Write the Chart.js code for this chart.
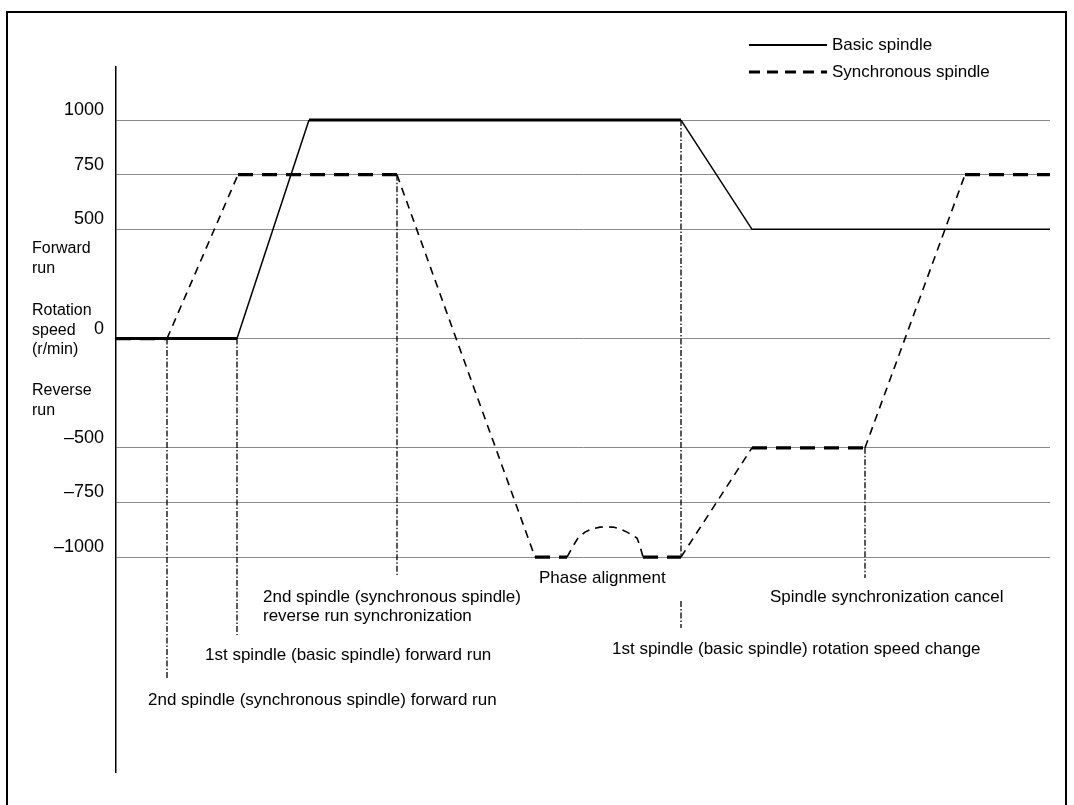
<!DOCTYPE html>
<html>
<head>
<meta charset="utf-8">
<title>Spindle synchronization</title>
<script src="https://cdn.jsdelivr.net/npm/chart.js@4.4.1/dist/chart.umd.min.js"></script>
<style>
  html, body { margin: 0; padding: 0; background: #fff; }
  #wrap { position: relative; width: 1074px; height: 805px; overflow: hidden; }
  #frame { position: absolute; left: 6px; top: 11px; width: 1061px; height: 830px;
           border: 2.5px solid #000; box-sizing: border-box; }
  #chart { position: absolute; left: 0; top: 0; }
</style>
</head>
<body>
<div id="wrap">
  <div id="frame"></div>
  <canvas id="chart" width="1074" height="805"></canvas>
</div>
<script>
"use strict";

// ── Data (time in arbitrary units, speed in r/min) ─────────────
const speedTicks = [1000, 750, 500, 0, -500, -750, -1000];

const basicTime  = [0, 121, 193, 565, 636, 934];
const basicSpeed = [0, 0, 1000, 1000, 500, 500];

const syncTime  = [0, 51, 122, 281, 419, 451, 457, 462, 469, 476, 484, 490, 497, 504, 511, 521, 524, 527, 565, 636, 749, 849, 934];
const syncSpeed = [0, 0, 750, 750, -1000, -1000, -950, -913, -886, -871, -863, -862, -863, -871, -886, -913, -950, -1000, -1000, -500, -500, 750, 750];

// event markers (vertical dash-dot lines)
const markerTime   = [51, 121, 281, 565, 749];
const markerTop    = [0, 0, 750, 1000, -500];
const markerBottom = [-1563, -1357, -1082, -1325, -1096];
const markerGapFrom = [null, null, null, -1000, null];
const markerGapTo   = [null, null, null, -1201, null];

const FONT = "'Liberation Sans', Arial, Helvetica, sans-serif";

const pts = (xs, ys) => xs.map((x, i) => ({ x, y: ys[i] }));
const flat = (c) => c.p0.parsed.y === c.p1.parsed.y;

// ── Marker datasets ───────────────────────────────────────────
const markerSets = markerTime.map((t, i) => {
    let data;
    if (markerGapFrom[i] !== null) {
        data = [
            { x: t, y: markerTop[i] }, { x: t, y: markerGapFrom[i] },
            { x: t, y: null },
            { x: t, y: markerGapTo[i] }, { x: t, y: markerBottom[i] },
        ];
    } else {
        data = [{ x: t, y: markerTop[i] }, { x: t, y: markerBottom[i] }];
    }
    return {
        label: "marker" + i,
        data,
        borderColor: "#000",
        borderWidth: 1.3,
        borderDash: [6, 2, 1.5, 2],
        pointRadius: 0,
        spanGaps: false,
    };
});

// ── Overlay text: legend, axis caption, event notes ──────────
const overlay = {
    id: "overlay",
    afterDraw(chart) {
        const ctx = chart.ctx;
        ctx.save();
        ctx.fillStyle = "#000";
        ctx.strokeStyle = "#000";
        ctx.textBaseline = "middle";
        ctx.textAlign = "left";

        // legend
        ctx.lineWidth = 2;
        ctx.setLineDash([]);
        ctx.beginPath(); ctx.moveTo(749, 45); ctx.lineTo(827, 45); ctx.stroke();
        ctx.lineWidth = 3;
        ctx.setLineDash([11, 7]);
        ctx.beginPath(); ctx.moveTo(749, 72); ctx.lineTo(827, 72); ctx.stroke();
        ctx.setLineDash([]);
        ctx.font = "17px " + FONT;
        ctx.fillText("Basic spindle", 832, 45);
        ctx.fillText("Synchronous spindle", 832, 72);

        // y axis caption
        ctx.font = "16px " + FONT;
        [["Forward", 249], ["run", 269],
         ["Rotation", 311], ["speed", 331], ["(r/min)", 350],
         ["Reverse", 391], ["run", 411]].forEach(([s, y]) => ctx.fillText(s, 32, y));

        // event notes
        ctx.font = "17px " + FONT;
        [["Phase alignment", 539, 578],
         ["2nd spindle (synchronous spindle)", 263, 597],
         ["reverse run synchronization", 263, 616],
         ["Spindle synchronization cancel", 770, 597],
         ["1st spindle (basic spindle) rotation speed change", 612, 649],
         ["1st spindle (basic spindle) forward run", 205, 655],
         ["2nd spindle (synchronous spindle) forward run", 148, 700]]
            .forEach(([s, x, y]) => ctx.fillText(s, x, y));
        ctx.restore();
    },
};

// ── Chart ─────────────────────────────────────────────────────
new Chart(document.getElementById("chart"), {
    type: "line",
    data: {
        datasets: [
            {
                label: "Basic spindle",
                data: pts(basicTime, basicSpeed),
                borderColor: "#000",
                borderWidth: 1.5,
                pointRadius: 0,
                tension: 0,
                segment: {
                    borderWidth: (c) => (flat(c) && c.p0.parsed.y !== 500 ? 3 : 1.5),
                },
            },
            {
                label: "Synchronous spindle",
                data: pts(syncTime, syncSpeed),
                borderColor: "#000",
                borderWidth: 1.6,
                borderDash: [8, 6],
                pointRadius: 0,
                tension: 0,
                segment: {
                    borderWidth: (c) => (flat(c) ? 3.2 : 1.6),
                    borderDash: (c) => (flat(c) ? [15, 9] : [8, 6]),
                },
            },
            ...markerSets,
        ],
    },
    options: {
        responsive: false,
        animation: false,
        events: [],
        layout: { padding: { left: 16, right: 24, top: 67, bottom: 33 } },
        plugins: { legend: { display: false }, tooltip: { enabled: false } },
        scales: {
            x: { type: "linear", min: 0, max: 934, display: false },
            y: {
                type: "linear",
                min: -1984,
                max: 1243,
                afterBuildTicks: (s) => { s.ticks = speedTicks.map((v) => ({ value: v })); },
                afterFit: (s) => { s.width = 100; },
                grid: { color: "#8a8a8a", lineWidth: 1, drawTicks: false },
                border: { display: true, color: "#000", width: 1.5 },
                ticks: {
                    color: "#000",
                    font: { family: FONT, size: 18 },
                    padding: 12,
                    labelOffset: -10,
                    callback: (v) => (v < 0 ? "\u2013" + Math.abs(v) : String(v)),
                },
            },
        },
    },
    plugins: [overlay],
});
</script>
</body>
</html>
